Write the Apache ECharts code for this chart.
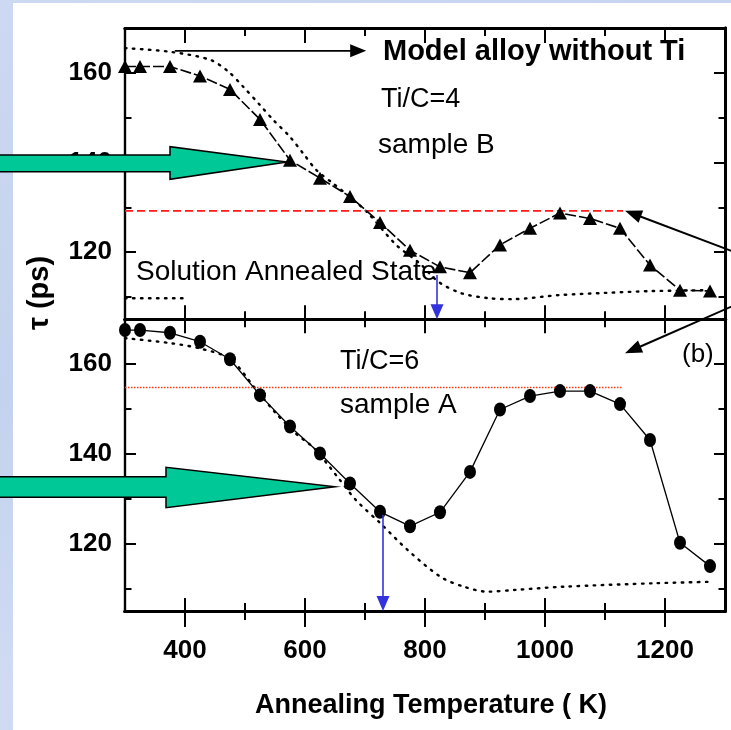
<!DOCTYPE html>
<html><head><meta charset="utf-8">
<script src="https://cdn.jsdelivr.net/npm/echarts@6/dist/echarts.min.js"></script>
<style>
html,body{margin:0;padding:0;}
body{width:731px;height:730px;position:relative;overflow:hidden;background:linear-gradient(160deg,#cdd8f2 0%,#c3d2ee 40%,#d0dbf3 70%,#c6d4ef 100%);}
#paper{position:absolute;left:13px;top:3px;width:718px;height:727px;background:#fff;}
#c{position:absolute;left:0;top:0;width:731px;height:730px;}
</style>
</head><body><div id="paper"></div><div id="c"></div>
<script>
// ---------- data ----------
const temps = [300,325,375,425,475,525,575,625,675,725,775,825,875,925,975,1025,1075,1125,1175,1225,1275];
const tauSampleB = [161.4,161.4,161.4,159.3,156.3,149.6,140.5,136.5,132.4,126.6,120.4,116.7,115.4,121.6,125.3,128.7,127.5,125.3,117.1,111.5,111.3];
const tauSampleA = [167.6,167.6,167.0,165.0,161.1,153.1,146.1,140.1,133.4,127.1,123.9,127.0,136.0,149.9,152.9,154.0,154.0,151.1,143.1,120.2,115.0];
const modelTempsTop = [300,375,442,472,497,525,547,575,597,619,647,675,705,752,791,822,861,907,946,1024,1102,1179,1273];
const modelTauTop = [165.5,164.7,162.9,160.3,156.9,152.8,149.5,145.7,142.0,138.3,135.3,132.3,128.7,121.6,117.5,113.4,110.8,109.7,109.5,110.4,110.9,111.3,111.5];
const modelTempsBot = [300,375,425,475,517,550,585,615,654,685,726,771,826,865,904,951,1029,1186,1275];
const modelTauBot = [165.8,164.7,163.5,161.2,154.6,149.3,144.5,141.3,134.9,129.7,124.5,118.6,112.6,110.4,109.3,109.7,110.4,111.2,111.5];
const solutionTemps = [300,398];
const solutionTau = [109.7,109.7];
const refTemps = [300,1130];
const refTauTop = 129.2;
const refTauBot = 154.8;
const blueArrowTop = {t:820, from:114.9, to:105};
const blueArrowBot = {t:730, from:126.4, to:105};
const modelArrow = {from:383, to:702, tau:164.9};
const xMajor = [400,600,800,1000,1200];
const xMinor = [500,700,900,1100];
const yMajor = [120,140,160];
const yMinor = [110,130,150];
const X_MIN = 300, X_MAX = 1300, Y_MIN = 105, Y_MAX = 170;

const FONT = '"Liberation Sans", Arial, Helvetica, sans-serif';
// narrow font for the y tick labels if installed
const cv = document.createElement('canvas').getContext('2d');
function w(font){ cv.font = font; return cv.measureText('160 120 140').width; }
const hasNarrow = w('bold 50px "Liberation Sans Narrow", monospace') !== w('bold 50px monospace');
const Y_FONT = hasNarrow ? '"Liberation Sans Narrow", ' + FONT : FONT;
const Y_SIZE = hasNarrow ? 31 : 26;

const zip = (a,b) => a.map((v,i)=>[v,b[i]]);

function xAx(grid,pos,ticks,len,inside,label){
  return {type:'value',gridIndex:grid,position:pos,min:X_MIN,max:X_MAX,
    axisLine:{show:true,onZero:false,lineStyle:{color:'#000',width:3}},
    axisTick:{show:true,inside:inside,length:len,customValues:ticks,lineStyle:{color:'#000',width:2}},
    axisLabel:label?{show:true,customValues:ticks,margin:27,color:'#000',fontSize:26,fontWeight:'bold',fontFamily:FONT,
      formatter:v=>String(v)}:{show:false},
    splitLine:{show:false}};
}
function yAx(grid,pos,ticks,len,label){
  return {type:'value',gridIndex:grid,position:pos,min:Y_MIN,max:Y_MAX,
    axisLine:{show:true,onZero:false,lineStyle:{color:'#000',width:pos==='left'?2.2:3}},
    axisTick:{show:true,inside:true,length:len,customValues:ticks,lineStyle:{color:'#000',width:2}},
    axisLabel:label?{show:true,customValues:ticks,margin:13,color:'#000',fontSize:Y_SIZE,fontWeight:'bold',fontFamily:Y_FONT,
      formatter:v=>String(v)}:{show:false},
    splitLine:{show:false}};
}

const xAxes = [
  xAx(0,'bottom',xMajor,14,true,false),
  xAx(0,'bottom',xMinor,8,true,false),
  xAx(0,'top',xMajor,15,true,false),
  xAx(0,'top',xMinor,8,true,false),
  xAx(1,'top',xMajor,14,true,false),
  xAx(1,'top',xMinor,8,true,false),
  xAx(1,'bottom',xMajor,13,true,false),
  xAx(1,'bottom',xMinor,8,true,false),
  xAx(1,'bottom',xMajor,16,false,true),
  xAx(1,'bottom',xMinor,9,false,false)
];
const yAxes = [
  yAx(0,'left',yMajor,11,true),
  yAx(0,'left',yMinor,6.5,false),
  yAx(0,'right',yMajor,11,false),
  yAx(0,'right',yMinor,6.5,false),
  yAx(1,'left',yMajor,11,true),
  yAx(1,'left',yMinor,6.5,false),
  yAx(1,'right',yMajor,11,false),
  yAx(1,'right',yMinor,6.5,false)
];
const TOP = {xAxisIndex:0,yAxisIndex:0};
const BOT = {xAxisIndex:6,yAxisIndex:4};

const dotted = {color:'#000',width:2.4,type:[1.5,6.5],cap:'round'};

const option = {
  animation:false,
  backgroundColor:'transparent',
  grid:[
    {left:125,top:28,width:600,height:291.3,outerBoundsMode:'none',containLabel:false},
    {left:125,top:319.3,width:600,height:291.7,outerBoundsMode:'none',containLabel:false}
  ],
  xAxis:xAxes,
  yAxis:yAxes,
  series:[
    Object.assign({type:'line',data:zip(modelTempsTop,modelTauTop),symbol:'none',smooth:0.3,lineStyle:dotted,z:3},TOP),
    Object.assign({type:'line',data:zip(solutionTemps,solutionTau),symbol:'none',lineStyle:dotted,z:3},TOP),
    Object.assign({type:'line',data:refTemps.map(t=>[t,refTauTop]),symbol:'none',lineStyle:{color:'#ff1a1a',width:1.6,type:[8,4]},z:3},TOP),
    Object.assign({type:'line',data:zip(temps,tauSampleB),symbol:'triangle',symbolSize:[14,13],
      itemStyle:{color:'#000'},lineStyle:{color:'#000',width:1.6,type:[11,3]},z:4},TOP),
    Object.assign({type:'line',data:zip(modelTempsBot,modelTauBot),symbol:'none',smooth:0.3,lineStyle:dotted,z:3},BOT),
    Object.assign({type:'line',data:refTemps.map(t=>[t,refTauBot]),symbol:'none',lineStyle:{color:'#ff3a10',width:1.3,type:[1.5,1.5]},z:3},BOT),
    Object.assign({type:'line',data:zip(temps,tauSampleA),symbol:'circle',symbolSize:[12,14],
      itemStyle:{color:'#000'},lineStyle:{color:'#000',width:1.3},z:4},BOT)
  ]
};

const chart = echarts.init(document.getElementById('c'),null,{renderer:'canvas'});
chart.setOption(option);

function arrow(x1,y1,x2,y2,color,lw,hl,hw){
  const dx=x2-x1, dy=y2-y1, L=Math.hypot(dx,dy), ux=dx/L, uy=dy/L;
  const bx=x2-ux*hl, by=y2-uy*hl, px=-uy, py=ux;
  return [
    {type:'line',z:50,shape:{x1:x1,y1:y1,x2:bx+ux*2,y2:by+uy*2},style:{stroke:color,lineWidth:lw}},
    {type:'polygon',z:50,shape:{points:[[x2,y2],[bx+px*hw/2,by+py*hw/2],[bx-px*hw/2,by-py*hw/2]]},style:{fill:color}}
  ];
}
function text(str,x,y,size,bold,opts){
  return Object.assign({type:'text',z:40,x:x,y:y,style:{text:str,
    font:(bold?'bold ':'')+size+'px '+FONT,fill:'#000',textAlign:(opts&&opts.align)||'left',
    verticalAlign:'middle',textVerticalAlign:'middle'}},opts&&opts.el||{});
}
const p = (g,t,v) => chart.convertToPixel(g,[t,v]);

const ba1 = p(TOP,blueArrowTop.t,blueArrowTop.from), ba2 = p(TOP,blueArrowTop.t,blueArrowTop.to);
const bb1 = p(BOT,blueArrowBot.t,blueArrowBot.from), bb2 = p(BOT,blueArrowBot.t,blueArrowBot.to);
const ma1 = p(TOP,modelArrow.from,modelArrow.tau), ma2 = p(TOP,modelArrow.to,modelArrow.tau);

const green = '#00c896';
const graphics = [].concat(
  [{type:'polygon',z:45,shape:{points:[[-5,155],[170,155],[170,146.7],[287,162],[170,179.3],[170,171.7],[-5,171.7]]},
    style:{fill:green,stroke:'#000',lineWidth:1.5}},
   {type:'polygon',z:45,shape:{points:[[-5,476.7],[166,476.7],[166,467.3],[335,486.7],[166,507.7],[166,497.3],[-5,497.3]]},
    style:{fill:green,stroke:'#000',lineWidth:1.5}}],
  arrow(ba1[0],ba1[1],ba2[0],ba2[1],'#3333dd',1.6,15,13),
  arrow(bb1[0],bb1[1],bb2[0],bb2[1],'#3333dd',1.6,15,13),
  arrow(ma1[0],ma1[1],ma2[0],ma2[1],'#000',1.6,16,13),
  arrow(745,256,625,210.7,'#000',2,17,13),
  arrow(745,300.6,625,353.3,'#000',2,17,13),
  [
    text('Model alloy without Ti',383,52,29,true),
    text('Ti/C=4',381,100,27,false),
    text('sample B',378,145,28,false),
    text('Solution Annealed State',136,272,28,false),
    text('Ti/C=6',340,362,27,false),
    text('sample A',340,405,28,false),
    text('(b)',682,355,26,false),
    text('Annealing Temperature ( K)',431,706,27,true,{align:'center'}),
    text('\u03c4 (ps)',40,293,29,true,{align:'center',el:{rotation:Math.PI/2}})
  ]
);
chart.setOption({graphic:{elements:graphics}});
</script>
</body></html>
